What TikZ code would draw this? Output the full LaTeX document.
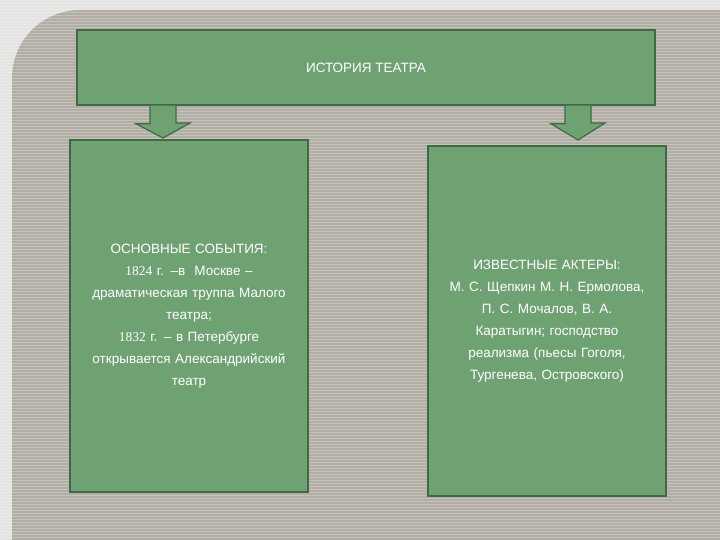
\documentclass[tikz,border=0pt]{standalone}
\usepackage{fontspec}
\setmainfont{Liberation Sans}
\newfontfamily\yr{Liberation Serif}
\definecolor{gfill}{HTML}{6FA273}
\definecolor{gline}{HTML}{3E6A44}
\definecolor{bgin}{HTML}{B2AEA6}
\definecolor{bgout}{HTML}{E4E4E2}
\begin{document}
\begin{tikzpicture}[x=1pt,y=-1pt,
  gbox/.style={draw=gline,line width=1.5pt,fill=gfill,text=white,align=center,inner sep=0pt,font=\fontsize{13.5}{22}\selectfont},
  garrow/.style={draw=gline,line width=1.2pt,fill=gfill}]
\useasboundingbox (0,0) rectangle (720,540);
\clip (0,0) rectangle (720,540);
\fill[bgout] (0,0) rectangle (720,540);
\fill[bgin] (720,10) -- (80,10) arc[start angle=270,end angle=180,radius=68] -- (12,540) -- (720,540) -- cycle;
\foreach \y in {0,3,...,540} \draw[white,opacity=0.25,line width=0.6pt] (0,\y) -- (720,\y);
\node[gbox,minimum width=578,minimum height=75] (top) at (366,67.5) {ИСТОРИЯ ТЕАТРА};
\node[gbox,minimum width=238,minimum height=352,text width=230] (left) at (189,316)
 {ОСНОВНЫЕ СОБЫТИЯ:\\ {\yr 1824} г. –в\ \ Москве –\\ драматическая труппа Малого\\ театра;\\ {\yr 1832} г. – в Петербурге\\ открывается Александрийский\\ театр};
\node[gbox,minimum width=238,minimum height=350,text width=230] (right) at (547,321)
 {ИЗВЕСТНЫЕ АКТЕРЫ:\\ М. С. Щепкин М. Н. Ермолова,\\ П. С. Мочалов, В. А.\\ Каратыгин; господство\\ реализма (пьесы Гоголя,\\ Тургенева, Островского)};
\path (top.south -| 163,0) coordinate (la) (top.south -| 578,0) coordinate (ra);
\draw[garrow] ([xshift=-13]la) -- ++(0,18) -- ++(-14,0) -- (163,138) -- (190,123) -- ++(-14,0) -- ([xshift=13]la);
\draw[garrow] ([xshift=-13]ra) -- ++(0,18) -- ++(-14,0) -- (578,140) -- (605,123) -- ++(-14,0) -- ([xshift=13]ra);
\end{tikzpicture}
\end{document}
